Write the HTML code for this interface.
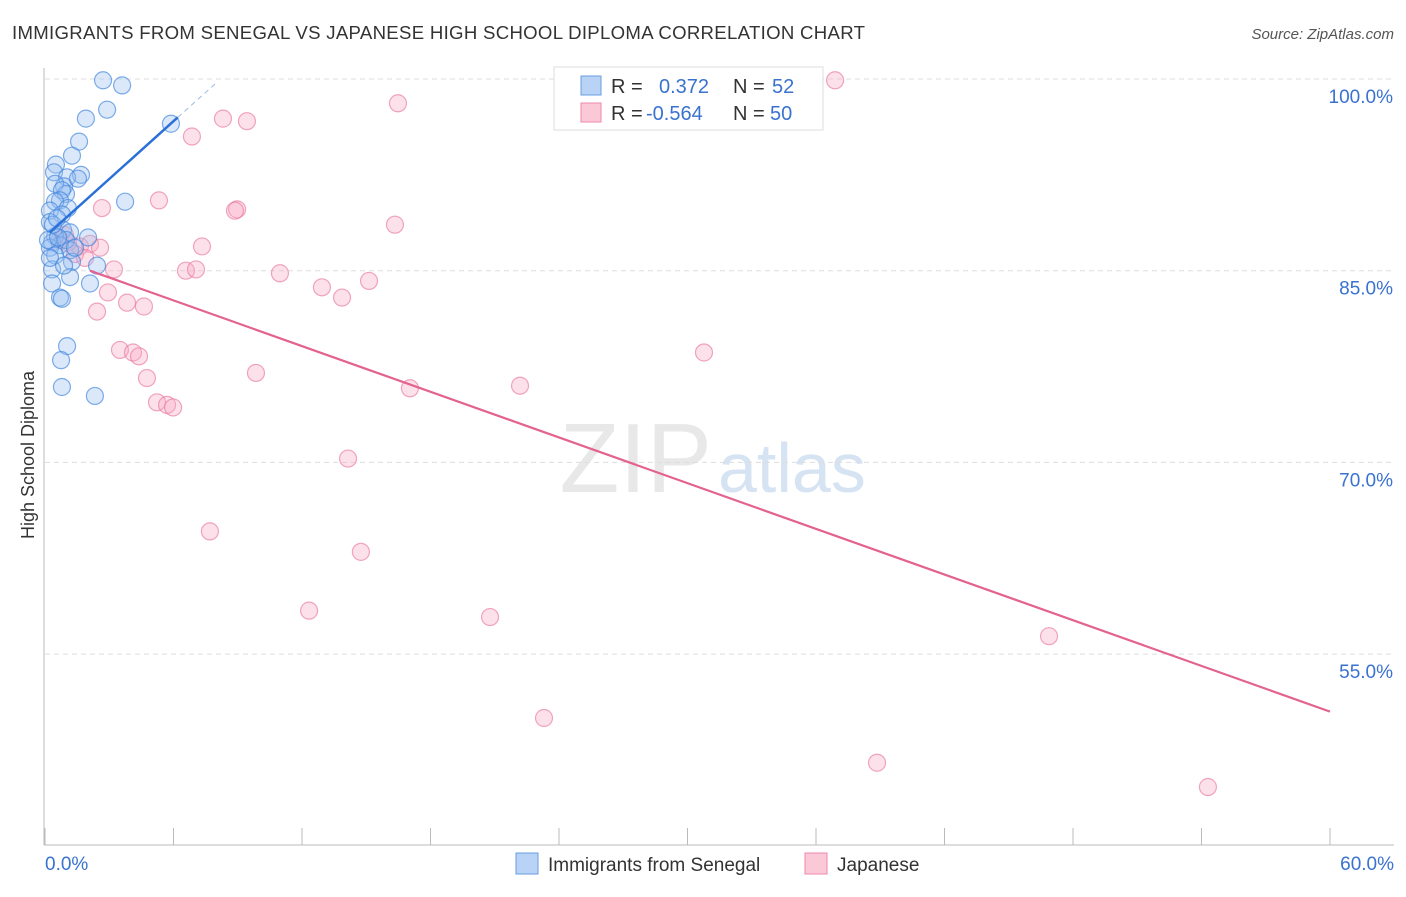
<!DOCTYPE html>
<html><head><meta charset="utf-8"><style>
body{margin:0;background:#fff;font-family:"Liberation Sans",sans-serif;}
svg text{font-family:"Liberation Sans",sans-serif;}
</style></head><body>
<svg id="chart" width="1406" height="892">
<text x="12" y="39" font-size="18.6" letter-spacing="0.3" fill="#333">IMMIGRANTS FROM SENEGAL VS JAPANESE HIGH SCHOOL DIPLOMA CORRELATION CHART</text>
<text x="1394" y="39" font-size="15" fill="#555" font-style="italic" text-anchor="end">Source: ZipAtlas.com</text>
<text x="712" y="492" font-size="98" fill="#e8e8e8" font-family="Liberation Serif" text-anchor="end">ZIP</text>
<text x="718" y="492" font-size="70" fill="#d6e3f3">atlas</text>
<g id="grid"></g>
<g id="axes"></g>
<g id="pts"></g>
<g id="trends"></g>
<text x="34" y="455" font-size="18" fill="#333" transform="rotate(-90 34 455)" text-anchor="middle">High School Diploma</text>
<g>
<rect x="554" y="67" width="269" height="63" fill="#fff" stroke="#ddd"/>
<rect x="581" y="76" width="20" height="19" fill="#b8d3f5" stroke="#6a9ee0"/>
<rect x="581" y="103" width="20" height="19" fill="#fbc8d8" stroke="#ec8aa8"/>
<text x="611" y="93" font-size="20" fill="#333">R =</text>
<text x="659" y="93" font-size="20" fill="#3a72d0">0.372</text>
<text x="733" y="93" font-size="20" fill="#333">N =</text>
<text x="772" y="93" font-size="20" fill="#3a72d0">52</text>
<text x="611" y="120" font-size="20" fill="#333">R =</text>
<text x="646" y="120" font-size="20" fill="#3a72d0">-0.564</text>
<text x="733" y="120" font-size="20" fill="#333">N =</text>
<text x="770" y="120" font-size="20" fill="#3a72d0">50</text>
</g>
<g>
<rect x="516" y="853" width="22" height="21" fill="#b8d3f5" stroke="#6a9ee0"/>
<text x="548" y="871" font-size="19" fill="#333">Immigrants from Senegal</text>
<rect x="805" y="853" width="22" height="21" fill="#fbc8d8" stroke="#ec8aa8"/>
<text x="837" y="871" font-size="19" fill="#333">Japanese</text>
</g>
</svg>
<script>
const xTicks=[0,6,12,18,24,30,36,42,48,54,60];
const yTicks=[55,70,85,100];
const blueX=[2.71,3.60,2.90,1.91,5.88,1.59,1.26,0.51,0.42,1.68,1.03,0.89,1.54,0.47,0.98,0.79,0.70,0.47,1.07,0.23,3.74,0.79,0.23,0.84,1.17,0.47,2.01,0.33,0.70,0.98,0.23,1.17,0.47,1.26,2.43,0.33,1.17,2.10,0.33,0.70,0.79,1.03,0.75,0.79,2.33,0.14,0.61,0.23,0.37,1.40,0.56,0.89];
const blueY=[99.9,99.5,97.6,96.9,96.5,95.1,94.0,93.3,92.7,92.5,92.3,91.6,92.2,91.8,91.0,91.3,90.5,90.4,89.9,89.7,90.4,89.4,88.8,88.2,88.0,87.7,87.6,87.2,87.0,87.4,86.8,86.6,86.2,85.7,85.4,85.1,84.5,84.0,84.0,82.9,82.8,79.1,78.0,75.9,75.2,87.4,87.6,86.0,88.6,86.8,89.1,85.4];
const pinkX=[36.89,16.48,8.31,9.43,6.86,5.32,2.66,8.97,8.87,16.34,7.33,6.58,7.05,10.97,3.22,12.93,15.13,13.87,2.94,3.83,4.62,2.43,3.50,4.11,4.39,4.76,9.85,17.04,22.18,30.77,5.23,5.70,5.98,14.15,7.70,14.75,12.33,20.78,46.88,23.30,38.85,54.30,1.63,1.07,2.10,0.70,1.40,1.87,2.57,0.93];
const pinkY=[99.9,98.1,96.9,96.7,95.5,90.5,89.9,89.8,89.7,88.6,86.9,85.0,85.1,84.8,85.1,83.7,84.2,82.9,83.3,82.5,82.2,81.8,78.8,78.6,78.3,76.6,77.0,75.8,76.0,78.6,74.7,74.5,74.3,70.3,64.6,63.0,58.4,57.9,56.4,50.0,46.5,44.6,86.9,87.2,87.1,87.4,86.3,86.0,86.8,87.8];
const blueTrend=[0.23,88.0,6.2,97.0,8.0,99.7];
const pinkTrend=[2.1,85.0,60,50.5];
const sx=v=>45+v/60*1285, sy=v=>79+(100-v)/15*191.7;
const NS="http://www.w3.org/2000/svg";
function mk(p,t,a){const e=document.createElementNS(NS,t);for(const k in a)e.setAttribute(k,a[k]);document.getElementById(p).appendChild(e);return e;}
yTicks.forEach(v=>{
 const l=mk('grid','line',{x1:45,x2:1394,y1:sy(v),y2:sy(v),stroke:'#ddd','stroke-dasharray':'5,4'});
 
 
 const t=mk('axes','text',{x:1393,y:sy(v)+24,'font-size':19,fill:'#3a72d0','text-anchor':'end'});
 t.textContent=v.toFixed(1)+'%';
 
 
});
mk('axes','line',{x1:44,x2:44,y1:68,y2:845,stroke:'#bbb'});
mk('axes','line',{x1:44,x2:1394,y1:845,y2:845,stroke:'#bbb'});
xTicks.forEach(v=>{
 const l=mk('axes','line',{x1:sx(v),x2:sx(v),y1:828,y2:845,stroke:'#bbb'});
 
 
});
[[0,45,'start'],[60,1394,'end']].forEach(([v,x,a])=>{
 const t=mk('axes','text',{x:x,y:870,'font-size':19,fill:'#3a72d0','text-anchor':a});
 t.textContent=v.toFixed(1)+'%';
 
 
});
pinkX.forEach((x,i)=>{
 const c=mk('pts','circle',{cx:sx(x),cy:sy(pinkY[i]),r:8.5,fill:'rgba(248,170,195,0.35)',stroke:'rgba(232,120,158,0.65)','stroke-width':1.2});
 
 
});
blueX.forEach((x,i)=>{
 const c=mk('pts','circle',{cx:sx(x),cy:sy(blueY[i]),r:8.5,fill:'rgba(150,190,240,0.35)',stroke:'rgba(60,130,220,0.65)','stroke-width':1.2});
 
 
});
const bl=mk('trends','line',{x1:sx(blueTrend[0]),y1:sy(blueTrend[1]),x2:sx(blueTrend[2]),y2:sy(blueTrend[3]),stroke:'#2a70d8','stroke-width':2.5});


const bd=mk('trends','line',{x1:sx(blueTrend[2]),y1:sy(blueTrend[3]),x2:sx(blueTrend[4]),y2:sy(blueTrend[5]),stroke:'#9bbbe8','stroke-width':1,'stroke-dasharray':'5,4'});


const pl=mk('trends','line',{x1:sx(pinkTrend[0]),y1:sy(pinkTrend[1]),x2:sx(pinkTrend[2]),y2:sy(pinkTrend[3]),stroke:'#e4628f','stroke-width':2.2});


</script>
</body></html>
